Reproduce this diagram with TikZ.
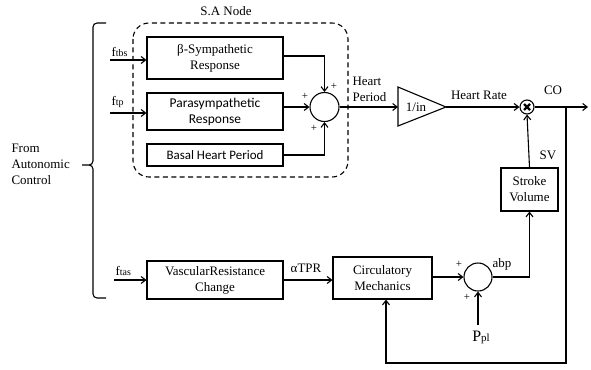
\documentclass[tikz,border=0pt]{standalone}
\usepackage{fontspec}
\setmainfont{Liberation Serif}
\newfontfamily\calib{Carlito}
\usetikzlibrary{arrows.meta,calc}
\begin{document}
\begin{tikzpicture}[x=1bp,y=-1bp,
  line width=1.1pt,
  arr/.style={-{Straight Barb[length=4.5pt,width=7pt,line width=1.1pt]}},
  blk/.style={draw,line width=1.1pt,align=center,inner sep=1pt,font=\fontsize{13}{16}\selectfont},
  sumc/.style={draw,circle,line width=1.1pt,minimum size=29bp,inner sep=0pt},
  lbl/.style={font=\fontsize{13}{15}\selectfont,inner sep=1pt},
  sml/.style={font=\fontsize{11}{12}\selectfont,inner sep=0pt}]
\useasboundingbox (0,0) rectangle (591,369);
% SA node dashed region
\draw[dashed,line width=1.1pt,rounded corners=16bp,dash pattern=on 5pt off 3.5pt] (133,23) rectangle (348,177);
\node[lbl] (sa) at (226,11) {S.A Node};
% brace
\draw[line width=1.1pt] (106,23) -- (97,23) to[out=180,in=90] (93,27) -- (93,161) to[out=-90,in=0] (89,165) -- (82,165)
  (89,165) to[out=0,in=90] (93,169) -- (93,294) to[out=-90,in=180] (97,298) -- (106,298);
\node[lbl,align=left,anchor=west,font=\fontsize{13}{16}\selectfont] (auto) at (10,164) {From\\Autonomic\\Control};
% blocks
\node[blk,minimum width=136bp,minimum height=42bp] (beta) at (215,58) {β-Sympathetic\\Response};
\node[blk,minimum width=136bp,minimum height=37bp,font=\calib\fontsize{13.5}{16}\selectfont] (para) at (215,111.5) {Parasympathetic\\Response};
\node[blk,minimum width=136bp,minimum height=22bp,font=\calib\fontsize{13}{16}\selectfont] (basal) at (215,155) {Basal Heart Period};
\node[blk,minimum width=136bp,minimum height=38bp] (vasc) at (215,280) {VascularResistance\\Change};
\node[blk,minimum width=99bp,minimum height=42bp] (circ) at (382.5,278) {Circulatory\\Mechanics};
\node[blk,minimum width=57bp,minimum height=43bp] (stroke) at (529.5,189.5) {Stroke\\Volume};
\node[sumc] (s1) at (324.5,107) {};
\node[sumc,minimum size=28bp] (s2) at (478,277) {};
\node[draw,circle,line width=1.1pt,minimum size=14bp,inner sep=0pt] (mult) at (527,107) {};
\draw[line width=2.2pt] ($(mult)+(-3,-3)$) -- ($(mult)+(3,3)$) ($(mult)+(-3,3)$) -- ($(mult)+(3,-3)$);
% triangle
\draw[line width=1.1pt] (398,87) -- (446,107) -- (398,126) -- cycle;
\coordinate (tril) at (398,107);
\coordinate (trit) at (446,107);
\node[lbl] (inv) at (416,107) {1/in};
% inputs
\coordinate (ftbsS) at (110,60);
\coordinate (ftpS) at (110,113);
\coordinate (ftasS) at (114,280);
\draw[arr] (ftbsS) -- (beta.west|-ftbsS);
\draw[arr] (ftpS) -- (para.west|-ftpS);
\draw[arr] (ftasS) -- (vasc.west|-ftasS);
\node[lbl,anchor=south west] (lftbs) at (110,58) {f\fontsize{10}{11}\selectfont tbs};
\node[lbl,anchor=south west] (lftp) at (110,109) {f\fontsize{10}{11}\selectfont tp};
\node[lbl,anchor=south west] (lftas) at (114,277) {f\fontsize{10}{11}\selectfont tas};
% sum 1 connections
\draw[arr] (beta.east|-0,56) -| (s1.north);
\draw[arr] (para.east|-s1) -- (s1.west);
\draw[arr] (basal.east) -| (s1.south);
\node[sml] (p1) at (334,86) {+};
\node[sml] (p2) at (305,96) {+};
\node[sml] (p3) at (314,128) {+};
\draw[arr] (s1.east) -- (tril);
\node[lbl,align=left,anchor=west,font=\fontsize{13}{16}\selectfont] (hp) at (351,89) {Heart\\Period};
\draw[arr] (trit) -- (mult.west);
\node[lbl] (hr) at (479,95) {Heart Rate};
\coordinate (out) at (588,107);
\coordinate (fb) at (566,107);
\draw[arr] (mult.east) -- (out);
\node[lbl] (co) at (553,90) {CO};
\draw[arr] (stroke.north) -- (mult.south);
\node[lbl] (sv) at (548,155) {SV};
% lower path
\draw[arr] (vasc.east) -- (circ.west|-vasc.east);
\node[lbl] (tpr) at (306,268) {αTPR};
\draw[arr] (circ.east|-s2) -- (s2.west);
\node[sml] (p4) at (459,264) {+};
\node[sml] (p5) at (467,297) {+};
\coordinate (ppl) at (478,325);
\draw[arr] (ppl) -- (s2.south);
\node[lbl,font=\fontsize{16}{17}\selectfont] (lppl) at (481,337) {P\fontsize{11}{12}\selectfont pl};
\draw[arr] (s2.east) -| (stroke.south);
\node[lbl] (abp) at (502,264) {abp};
\draw[arr] (fb) |- (386,363) -- (circ.south-|386,0);
\end{tikzpicture}
\end{document}
